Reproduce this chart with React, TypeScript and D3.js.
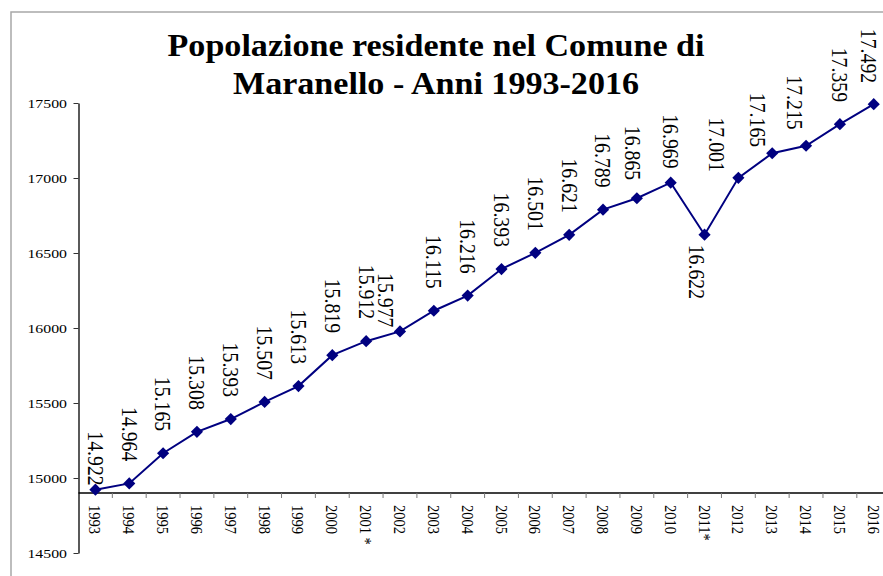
import React, { useEffect, useRef } from 'react';
import * as d3 from 'd3';

// Data
const years = [
  '1993', '1994', '1995', '1996', '1997', '1998', '1999', '2000',
  '2001', '2002', '2003', '2004', '2005', '2006', '2007', '2008',
  '2009', '2010', '2011', '2012', '2013', '2014', '2015', '2016',
];
const yearLabels = [
  '1993', '1994', '1995', '1996', '1997', '1998', '1999', '2000',
  '2001 *', '2002', '2003', '2004', '2005', '2006', '2007', '2008',
  '2009', '2010', '2011*', '2012', '2013', '2014', '2015', '2016',
];
const population = [
  14922, 14964, 15165, 15308, 15393, 15507, 15613, 15819,
  15912, 15977, 16115, 16216, 16393, 16501, 16621, 16789,
  16865, 16969, 16622, 17001, 17165, 17215, 17359, 17492,
];
const yTicks = [14500, 15000, 15500, 16000, 16500, 17000, 17500];
const titleLines = ['Popolazione residente nel Comune di', 'Maranello - Anni 1993-2016'];

const Chart = () => {
  const chartRef = useRef(null);

  useEffect(() => {
    const width = 883;
    const height = 576;
    const serif = '"Liberation Serif", "Times New Roman", serif';
    const sx = 1.2; // the original picture is stretched sideways
    const navy = '#000080';

    d3.select(chartRef.current).select('svg').remove();

    const svg = d3
      .select(chartRef.current)
      .append('svg')
      .attr('width', width)
      .attr('height', height)
      .style('position', 'absolute')
      .style('left', 0)
      .style('top', 0)
      .style('background', '#fff')
      .style('font-family', serif);

    // chart frame (only top and left edges are in view)
    svg
      .append('path')
      .attr('d', `M11,${height}V12H${width}`)
      .attr('fill', 'none')
      .attr('stroke', '#a8a8a8')
      .attr('stroke-width', 1.5);

    // scales
    const xScale = d3
      .scaleBand()
      .domain(years)
      .range([78.5, 78.5 + years.length * 33.84]);
    const yScale = d3.scaleLinear().domain([14500, 17500]).range([553, 103]);
    const cx = (y) => xScale(y) + xScale.bandwidth() / 2;

    // title
    titleLines.forEach((t, i) => {
      svg
        .append('text')
        .attr('transform', `translate(436,${56 + i * 38}) scale(1.065,1)`)
        .attr('text-anchor', 'middle')
        .style('font-family', serif)
        .attr('font-size', 32)
        .attr('font-weight', 'bold')
        .attr('fill', '#000')
        .text(t);
    });

    // Y axis
    const yAxis = svg
      .append('g')
      .attr('transform', 'translate(78.5,0)')
      .call(
        d3
          .axisLeft(yScale)
          .tickValues(yTicks)
          .tickFormat(d3.format('d'))
          .tickSize(5)
          .tickSizeOuter(0)
          .tickPadding(4.6)
      );
    yAxis.select('.domain').attr('stroke', '#000').attr('stroke-width', 1.3);
    yAxis.selectAll('.tick line').attr('stroke', '#333');
    yAxis
      .selectAll('text')
      .attr('transform', `scale(${sx},1)`)
      .style('font-family', serif)
      .style('font-size', '13.2px')
      .attr('fill', '#000');

    // X axis, crossing at 14900
    const axisY = yScale(14900);
    svg
      .append('line')
      .attr('x1', 78.5)
      .attr('x2', width)
      .attr('y1', axisY)
      .attr('y2', axisY)
      .attr('stroke', '#000')
      .attr('stroke-width', 1.3);

    // ticks between categories
    svg
      .append('g')
      .selectAll('line')
      .data(years)
      .enter()
      .append('line')
      .attr('x1', (d) => xScale(d) + xScale.bandwidth())
      .attr('x2', (d) => xScale(d) + xScale.bandwidth())
      .attr('y1', axisY)
      .attr('y2', axisY + 5)
      .attr('stroke', '#777');

    // rotated category labels
    svg
      .append('g')
      .selectAll('text')
      .data(years)
      .enter()
      .append('text')
      .attr('transform', (d) => `translate(${cx(d)},${axisY + 12}) scale(${sx},1) rotate(90)`)
      .attr('text-anchor', 'start')
      .attr('dominant-baseline', 'central')
      .style('font-family', serif)
      .style('font-size', '14.5px')
      .attr('fill', '#000')
      .text((_, i) => yearLabels[i]);

    // line
    const line = d3
      .line()
      .x((_, i) => cx(years[i]))
      .y((d) => yScale(d));
    svg
      .append('path')
      .datum(population)
      .attr('d', line)
      .attr('fill', 'none')
      .attr('stroke', navy)
      .attr('stroke-width', 2);

    // diamond markers
    svg
      .append('g')
      .selectAll('path')
      .data(population)
      .enter()
      .append('path')
      .attr('d', d3.symbol(d3.symbolSquare, 74)())
      .attr('transform', (d, i) => `translate(${cx(years[i])},${yScale(d)}) rotate(45)`)
      .attr('fill', navy);

    // data labels (some were dragged by hand in the original)
    const it = d3.formatLocale({ decimal: ',', thousands: '.', grouping: [3], currency: ['', ''] });
    const fmt = it.format(',d');
    const nudge = {
      '1993': { dx: 0, gap: 4 },
      '2002': { dx: -14, gap: 4 },
      '2009': { dx: -4, gap: 18 },
      '2010': { dx: 0, gap: 14 },
      '2011': { dx: -8, gap: 10, below: true },
      '2012': { dx: -22, gap: 6 },
      '2013': { dx: -15, gap: 6 },
      '2014': { dx: -11, gap: 16 },
      '2016': { dx: -5, gap: 21 },
    };
    svg
      .append('g')
      .selectAll('text')
      .data(population)
      .enter()
      .append('text')
      .attr('transform', (d, i) => {
        const n = nudge[years[i]] || { dx: 0, gap: 22 };
        const ty = n.below ? yScale(d) + n.gap : yScale(d) - n.gap;
        return `translate(${cx(years[i]) + n.dx},${ty}) scale(${sx},1) rotate(90)`;
      })
      .attr('text-anchor', (_, i) => (nudge[years[i]] && nudge[years[i]].below ? 'start' : 'end'))
      .attr('dominant-baseline', 'central')
      .style('font-family', serif)
      .style('font-size', '19.8px')
      .attr('fill', '#000')
      .text((d) => fmt(d));
  }, []);

  return <div ref={chartRef}></div>;
};

export default function App() {
  return <Chart />;
}
